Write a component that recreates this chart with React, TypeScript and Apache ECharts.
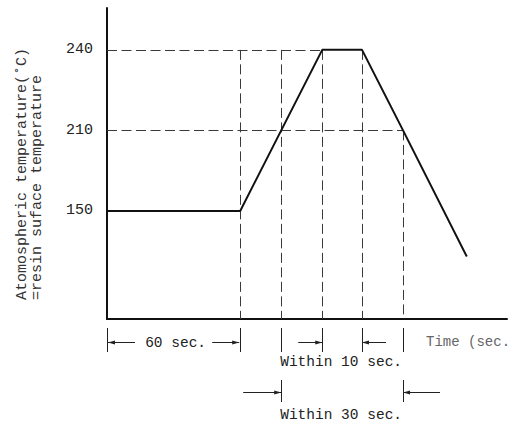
import React, { useEffect, useRef } from 'react';
import * as echarts from 'echarts';

// ---- data (schematic reflow profile) ----
const tempTicks = [150, 210, 240];            // labelled temperatures (°C)
const tickLevels = [1, 2, 3];                 // schematic (evenly spaced) positions of those labels
const profileTime = [0, 3.28, 4.29, 5.3, 6.28, 7.29, 8.86]; // schematic time positions
const profileTemp = [150, 150, 210, 240, 240, 210, 116];    // temperature at each point
const preheatSpan = [0, 3.28];      // "60 sec."
const peakSpan = [5.3, 6.28];       // "Within 10 sec." at 240
const above210Span = [4.29, 7.29];  // "Within 30 sec." above 210
const spanLabels = ['60 sec.', 'Within 10 sec.', 'Within 30 sec.'];
const yTitleLines = ['Atomospheric temperature(\u02daC)', '=resin suface temperature'];
const xTitle = 'Time (sec.';
const xRange = [0, 9.85];
const yRange = [-0.342, 3.52];

const FONT = '"Liberation Mono", "DejaVu Sans Mono", monospace';

function tempToLevel(t: number): number {
  let i = 0;
  while (i < tempTicks.length - 2 && t > tempTicks[i + 1]) i++;
  const t0 = tempTicks[i], t1 = tempTicks[i + 1];
  const l0 = tickLevels[i], l1 = tickLevels[i + 1];
  return l0 + ((t - t0) / (t1 - t0)) * (l1 - l0);
}

function levelToLabel(v: number): string {
  const idx = tickLevels.findIndex((l) => Math.abs(l - v) < 1e-6);
  return idx >= 0 ? String(tempTicks[idx]) : '';
}

export default function App() {
  const ref = useRef<HTMLDivElement>(null);

  useEffect(() => {
    document.body.style.margin = '0';
    if (!ref.current) return;
    const chart = echarts.init(ref.current, undefined, { renderer: 'svg' });

    const L240 = tempToLevel(tempTicks[2]);
    const L210 = tempToLevel(tempTicks[1]);
    const yMin = yRange[0];

    const dashed = { color: '#3a3a3a', width: 1, type: [10, 4.5] as any };
    const vLine = (x: number, top: number) => [
      { coord: [x, top] },
      { coord: [x, yMin] },
    ];

    chart.setOption({
      animation: false,
      backgroundColor: '#ffffff',
      grid: {
        left: 107,
        right: 6,
        top: 8,
        bottom: 106,
        containLabel: false,
        outerBoundsMode: 'none',
      },
      xAxis: {
        type: 'value',
        min: xRange[0],
        max: xRange[1],
        axisLine: { show: true, onZero: false, lineStyle: { color: '#111', width: 2 } },
        axisTick: { show: false },
        axisLabel: { show: false },
        splitLine: { show: false },
      },
      yAxis: {
        type: 'value',
        min: yRange[0],
        max: yRange[1],
        axisLine: { show: true, onZero: false, lineStyle: { color: '#111', width: 2 } },
        axisTick: { show: false },
        splitLine: { show: false },
        axisLabel: {
          show: true,
          customValues: tickLevels,
          formatter: (v: number) => levelToLabel(v),
          margin: 14,
          fontFamily: FONT,
          fontSize: 15,
          color: '#222',
        },
      },
      series: [
        {
          type: 'line',
          data: profileTime.map((x, i) => [x, tempToLevel(profileTemp[i])]),
          showSymbol: false,
          symbol: 'none',
          lineStyle: { color: '#111', width: 2 },
          silent: true,
          z: 5,
          markLine: {
            silent: true,
            symbol: ['none', 'none'],
            label: { show: false },
            lineStyle: dashed,
            emphasis: { disabled: true },
            z: 2,
            data: [
              [{ coord: [xRange[0], L240] }, { coord: [peakSpan[0], L240] }],
              [{ coord: [xRange[0], L210] }, { coord: [above210Span[1], L210] }],
              vLine(preheatSpan[1], L240),
              vLine(above210Span[0], L240),
              vLine(peakSpan[0], L240),
              vLine(peakSpan[1], L240),
              vLine(above210Span[1], L210),
            ],
          },
        },
      ],
    });

    // ---- dimension annotations below the axis, positioned through the axes ----
    const px = (v: number) => chart.convertToPixel({ xAxisIndex: 0 }, v) as number;
    const axisY = chart.convertToPixel({ yAxisIndex: 0 }, yMin) as number;
    const row1 = axisY + 23;
    const row2 = axisY + 73;
    const ink = '#222';

    const els: any[] = [];
    const tick = (x: number, y0: number, y1: number) =>
      els.push({
        type: 'line',
        shape: { x1: Math.round(x) + 0.5, y1: y0, x2: Math.round(x) + 0.5, y2: y1 },
        style: { stroke: ink, lineWidth: 1 },
        silent: true,
      });
    const arrow = (tip: number, tail: number, y: number) => {
      const dir = tip > tail ? 1 : -1;
      els.push({
        type: 'line',
        shape: { x1: tail, y1: y + 0.5, x2: tip, y2: y + 0.5 },
        style: { stroke: ink, lineWidth: 1 },
        silent: true,
      });
      els.push({
        type: 'polygon',
        shape: {
          points: [
            [tip, y + 0.5],
            [tip - dir * 7, y - 1.5],
            [tip - dir * 7, y + 2.5],
          ],
        },
        style: { fill: ink },
        silent: true,
      });
    };
    const text = (t: string, x: number, y: number, align: string, color = ink, size = 14.5) =>
      els.push({
        type: 'text',
        x,
        y,
        silent: true,
        style: {
          text: t,
          fill: color,
          font: `${size}px ${FONT}`,
          textAlign: align,
          textVerticalAlign: 'middle',
        },
      });

    // row 1 extension ticks
    [preheatSpan[0], preheatSpan[1], above210Span[0], peakSpan[0], peakSpan[1], above210Span[1]].forEach(
      (v) => tick(px(v), axisY + 9, axisY + 33)
    );
    // row 2 extension ticks
    [above210Span[0], above210Span[1]].forEach((v) => tick(px(v), axisY + 61, axisY + 83));

    // 60 sec.
    const p0 = px(preheatSpan[0]);
    const p1 = px(preheatSpan[1]);
    arrow(p0 + 1, p0 + 28, row1);
    arrow(p1 - 1, p1 - 28, row1);
    text(spanLabels[0], (p0 + p1) / 2 + 2, row1 + 1, 'center');

    // Within 10 sec.
    const k0 = px(peakSpan[0]);
    const k1 = px(peakSpan[1]);
    arrow(k0, k0 - 24, row1);
    arrow(k1, k1 + 24, row1);
    text(spanLabels[1], px(above210Span[0]) - 1, axisY + 43, 'left');

    // Within 30 sec.
    const a0 = px(above210Span[0]);
    const a1 = px(above210Span[1]);
    arrow(a0, a0 - 38, row2);
    arrow(a1, a1 + 37, row2);
    text(spanLabels[2], a0 - 1, axisY + 96, 'left');

    // x title (as far as the reference shows it)
    text(xTitle, a1 + 23, row1, 'left', '#666', 14);

    // y title (two rotated lines)
    yTitleLines.forEach((line, i) => {
      els.push({
        type: 'text',
        x: 22 + i * 15,
        y: 300,
        rotation: Math.PI / 2,
        silent: true,
        style: {
          text: line,
          fill: '#333',
          font: `15px ${FONT}`,
          textAlign: 'left',
          textVerticalAlign: 'middle',
        },
      });
    });

    chart.setOption({ graphic: { elements: els } });

    return () => {
      chart.dispose();
    };
  }, []);

  return <div ref={ref} style={{ width: 513, height: 425 }} />;
}
